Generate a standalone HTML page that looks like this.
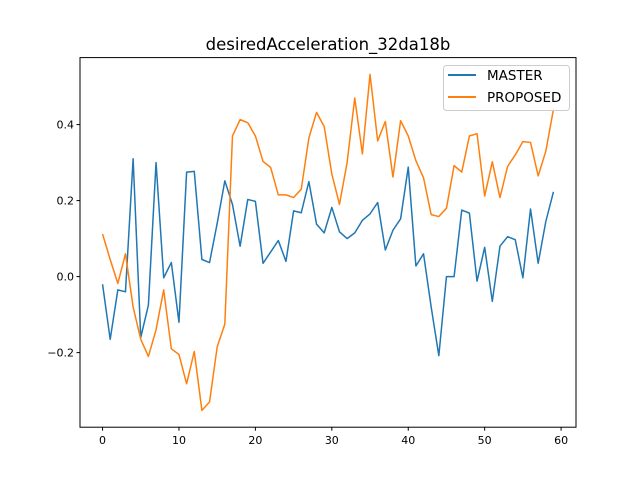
<!DOCTYPE html>
<html><head><meta charset="utf-8"><style>
body{margin:0;background:#fff}
svg{display:block;font-family:"DejaVu Sans","Liberation Sans",sans-serif}
</style></head><body>
<svg id="chart" width="640" height="480">
<rect width="640" height="480" fill="#fff"/>
<text x="328" y="50" text-anchor="middle" font-size="16.5">desiredAcceleration_32da18b</text>
<g id="grid"></g>
<g id="series"></g>
<rect x="80" y="57.6" width="496" height="369.6" fill="none" stroke="#000" stroke-width="1"/>
<g id="axes"></g>
<g>
<rect x="443.5" y="65.5" width="126" height="45" rx="3" fill="#fff" fill-opacity="0.8" stroke="#ccc"/>
<line x1="448" y1="75" x2="476" y2="75" stroke="#1f77b4" stroke-width="2"/>
<text x="487" y="80" font-size="13.5">MASTER</text>
<line x1="448" y1="97" x2="476" y2="97" stroke="#ff7f0e" stroke-width="2"/>
<text x="487" y="102" font-size="13.5">PROPOSED</text>
</g>
</svg>
<script>
const master=[-0.02,-0.165,-0.035,-0.04,0.31,-0.16,-0.075,0.30,-0.003,0.037,-0.12,0.275,0.277,0.045,0.037,0.14,0.252,0.19,0.08,0.203,0.198,0.035,0.065,0.095,0.04,0.173,0.168,0.25,0.138,0.115,0.182,0.118,0.1,0.115,0.148,0.165,0.195,0.07,0.122,0.152,0.288,0.028,0.06,-0.08,-0.208,0.0,0.0,0.175,0.167,-0.012,0.077,-0.065,0.08,0.105,0.097,-0.003,0.178,0.035,0.145,0.223];
const proposed=[0.112,0.045,-0.018,0.06,-0.08,-0.165,-0.21,-0.14,-0.035,-0.19,-0.205,-0.282,-0.197,-0.352,-0.33,-0.185,-0.125,0.37,0.413,0.405,0.37,0.303,0.287,0.215,0.215,0.208,0.23,0.365,0.432,0.395,0.27,0.19,0.3,0.47,0.323,0.532,0.357,0.408,0.262,0.41,0.37,0.305,0.26,0.163,0.158,0.18,0.292,0.275,0.37,0.376,0.212,0.302,0.208,0.29,0.32,0.355,0.353,0.265,0.33,0.44];
const xTicks=[0,10,20,30,40,50,60];
const yTicks=[-0.2,0,0.2,0.4];
const yTickLabels=["\u22120.2","0.0","0.2","0.4"];
const NS="http://www.w3.org/2000/svg";
const n=master.length;
const xmin=-0.05*(n-1), xmax=(n-1)*1.05;
const all=master.concat(proposed);
const dmin=Math.min(...all), dmax=Math.max(...all), pad=(dmax-dmin)*0.05;
const ymin=dmin-pad, ymax=dmax+pad;
const L=80,R=576,T=57.6,B=427.2;
const X=v=>L+(v-xmin)/(xmax-xmin)*(R-L);
const Y=v=>B-(v-ymin)/(ymax-ymin)*(B-T);
const axes=document.getElementById('axes');
function mk(tag,attrs,parent){const e=document.createElementNS(NS,tag);for(const k in attrs)e.setAttribute(k,attrs[k]);parent.appendChild(e);return e;}
xTicks.forEach(t=>{
 const tk=mk('line',{x1:X(t),x2:X(t),y1:B,y2:B+3.5,stroke:'#000'},axes);
 
 
 const tx=mk('text',{x:X(t),y:B+17,'text-anchor':'middle','font-size':'11'},axes);
 tx.textContent=t;
 
 
});
yTicks.forEach((t,i)=>{
 const tk=mk('line',{x1:L-3.5,x2:L,y1:Y(t),y2:Y(t),stroke:'#000'},axes);
 
 
 const tx=mk('text',{x:L-6,y:Y(t)+4,'text-anchor':'end','font-size':'11'},axes);
 tx.textContent=yTickLabels[i];
 
 
});
const series=document.getElementById('series');
[[master,'#1f77b4','master-line'],[proposed,'#ff7f0e','proposed-line']].forEach(([d,c,name])=>{
 const p=mk('polyline',{points:d.map((v,i)=>X(i).toFixed(2)+','+Y(v).toFixed(2)).join(' '),fill:'none',stroke:c,'stroke-width':'1.5','stroke-linejoin':'round'},series);
 
 
});
</script>
</body></html>
